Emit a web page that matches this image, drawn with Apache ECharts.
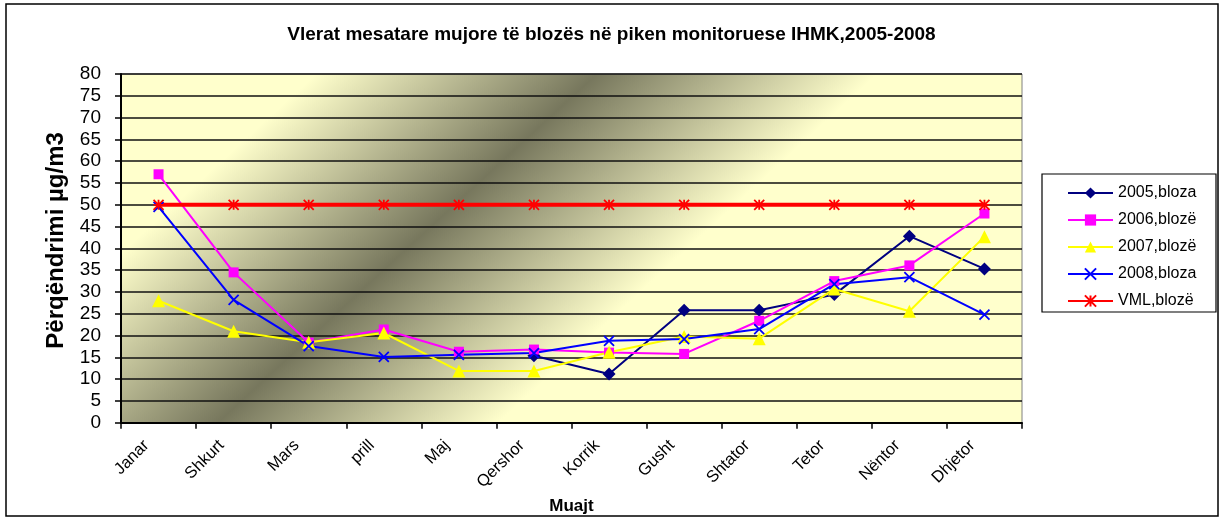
<!DOCTYPE html>
<html>
<head>
<meta charset="utf-8">
<script src="https://cdn.jsdelivr.net/npm/echarts@6/dist/echarts.min.js"></script>
<style>
html,body{margin:0;padding:0;background:#fff;}
#chart{width:1223px;height:520px;}
</style>
</head>
<body>
<div id="chart"></div>
<script>
const months = ['Janar','Shkurt','Mars','prill','Maj','Qershor','Korrik','Gusht','Shtator','Tetor','Nëntor','Dhjetor'];
const s2005 = [null,null,null,null,null,15.4,11.2,25.8,25.8,29.4,42.8,35.3];
const s2006 = [57,34.5,18.4,21.4,16.3,16.8,16.1,15.8,23.4,32.5,36.1,48];
const s2007 = [28,21,18.5,20.6,11.9,11.9,16.2,19.8,19.3,30.7,25.6,42.7];
const s2008 = [49.5,28.2,17.6,15.1,15.6,16,18.8,19.2,21.5,31.8,33.4,24.8];
const sVML = [50,50,50,50,50,50,50,50,50,50,50,50];
const seriesNames = ['2005,bloza','2006,blozë','2007,blozë','2008,bloza','VML,blozë'];
const yTicks = [0,5,10,15,20,25,30,35,40,45,50,55,60,65,70,75,80];

const FONT = 'Liberation Sans, Arial, sans-serif';
const chart = echarts.init(document.getElementById('chart'), null, {renderer:'canvas'});

// gradient band (pixel coordinates)
const p0 = [412, 244], n = [0.677, 0.736], W = 190;
const bg = new echarts.graphic.LinearGradient(
  p0[0] - W*n[0], p0[1] - W*n[1], p0[0] + W*n[0], p0[1] + W*n[1],
  [{offset:0,color:'#FFFFCC'},{offset:0.5,color:'#77775d'},{offset:1,color:'#FFFFCC'}], true);

const crossPath = 'path://M0,0L10,10M10,0L0,10';
const starPath = 'path://M0,0L10,10M10,0L0,10M5,0L5,10M0,5L10,5';

function mk(name, data, color, symbol, size, lw, stroked){
  return {
    name, type:'line', data,
    symbol, symbolSize:size, showAllSymbol:true,
    lineStyle:{color, width:lw},
    itemStyle: stroked ? {color, borderColor:color, borderWidth:1.8} : {color, borderWidth:0},
    emphasis:{disabled:true},
    z: 3
  };
}

chart.setOption({
  animation:false,
  backgroundColor:'#fff',
  textStyle:{fontFamily:FONT},
  title:{
    text:'Vlerat mesatare mujore të blozës në piken monitoruese IHMK,2005-2008',
    left:'center', top:20,
    textStyle:{fontFamily:FONT, fontSize:19, fontWeight:'bold', color:'#000'}
  },
  graphic:[{
    type:'rect', z:100, silent:true,
    shape:{x:6,y:4,width:1212,height:512},
    style:{fill:null, stroke:'#000', lineWidth:1.5}
  },{
    type:'rect', z:100, silent:true,
    shape:{x:1042,y:174,width:174,height:138},
    style:{fill:null, stroke:'#000', lineWidth:1.2}
  }],
  legend:{
    orient:'vertical', left:1062, top:180,
    itemWidth:45, itemHeight:14, itemGap:11,
    textStyle:{fontFamily:FONT, fontSize:16, color:'#000'},
    data:seriesNames
  },
  grid:{
    left:121, right:201, top:74, bottom:96,
    show:true, backgroundColor:bg, borderColor:'#808080', borderWidth:1
  },
  xAxis:{
    type:'category', data:months, boundaryGap:true,
    name:'Muajt', nameLocation:'middle', nameGap:70,
    nameTextStyle:{fontFamily:FONT, fontSize:17, fontWeight:'bold', color:'#000'},
    axisLine:{lineStyle:{color:'#000', width:2}},
    axisTick:{show:true, length:6, lineStyle:{color:'#000', width:1.5}},
    axisLabel:{rotate:45, fontSize:16.5, color:'#000', margin:8, padding:[0,17,0,0], fontFamily:FONT},
    splitLine:{show:false}
  },
  yAxis:{
    type:'value', min:0, max:80, interval:5,
    name:'Përqëndrimi µg/m3', nameLocation:'middle', nameGap:53,
    nameTextStyle:{fontFamily:FONT, fontSize:24, fontWeight:'bold', color:'#000', padding:[0,0,0,16]},
    axisLine:{show:true, lineStyle:{color:'#000', width:2}},
    axisTick:{show:true, length:6, lineStyle:{color:'#000', width:1.5}},
    axisLabel:{fontSize:19, color:'#000', margin:20, fontFamily:FONT,
      formatter:function(v){ return yTicks.indexOf(v) >= 0 ? String(v) : ''; }},
    splitLine:{show:true, lineStyle:{color:'#111', width:1.7}}
  },
  series:[
    mk(seriesNames[0], s2005, '#000080', 'diamond', 13, 2, false),
    mk(seriesNames[1], s2006, '#FF00FF', 'rect', 10, 2, false),
    mk(seriesNames[2], s2007, '#FFFF00', 'triangle', 13, 2, false),
    mk(seriesNames[3], s2008, '#0000FF', crossPath, 10, 2, true),
    mk(seriesNames[4], sVML, '#FF0000', starPath, 10, 4, true)
  ]
});
</script>
</body>
</html>
